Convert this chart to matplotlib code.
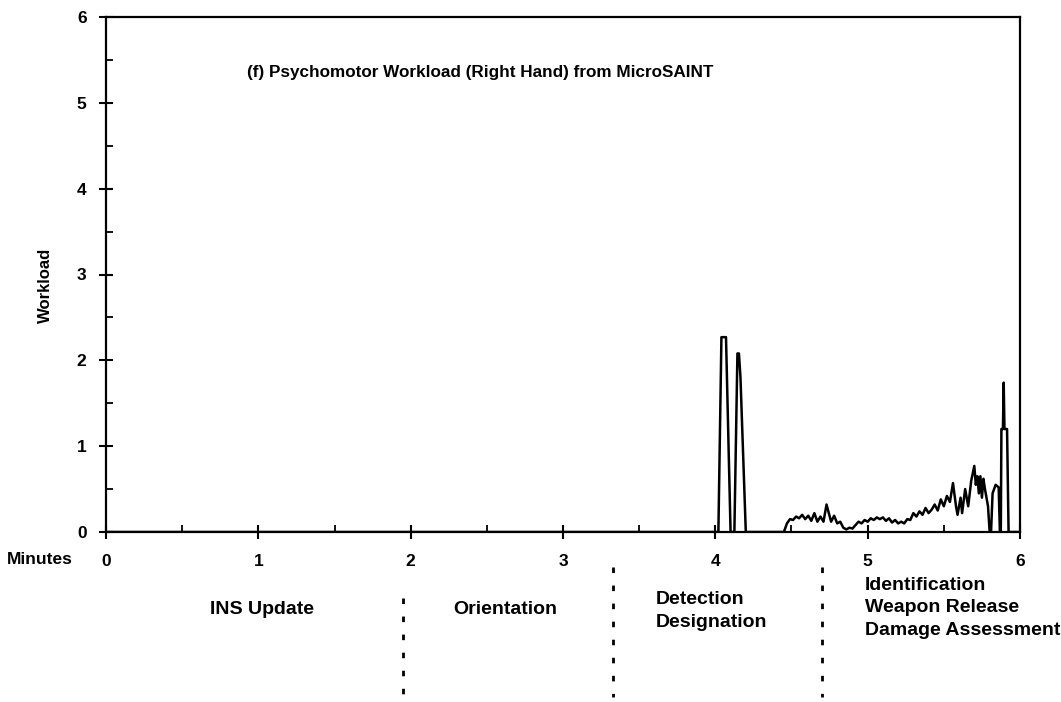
import numpy as np
import matplotlib
matplotlib.use("Agg")
import matplotlib.pyplot as plt
from matplotlib.ticker import MultipleLocator
import matplotlib.transforms as mtransforms

plt.rcParams['font.family'] = ['Liberation Sans', 'DejaVu Sans']
plt.rcParams['font.weight'] = 'bold'

# =========================================================
# DATA
# =========================================================
minutes = [0.0, 4.02, 4.04, 4.07, 4.10, 4.125, 4.145, 4.155, 4.165, 4.20,
           4.45, 4.47, 4.49, 4.51, 4.53, 4.55, 4.57, 4.59, 4.61, 4.63,
           4.65, 4.67, 4.69, 4.71, 4.73, 4.745, 4.76, 4.78, 4.80, 4.82,
           4.84, 4.86, 4.88, 4.90, 4.92, 4.94, 4.96, 4.98, 5.00, 5.02,
           5.04, 5.06, 5.08, 5.10, 5.12, 5.14, 5.16, 5.18, 5.20, 5.22,
           5.24, 5.26, 5.28, 5.30, 5.32, 5.34, 5.36, 5.38, 5.40, 5.42,
           5.44, 5.46, 5.48, 5.50, 5.52, 5.54, 5.56, 5.58, 5.59, 5.61,
           5.62, 5.64, 5.66, 5.68, 5.70, 5.71, 5.72, 5.73, 5.74, 5.75,
           5.76, 5.77, 5.79, 5.80, 5.81, 5.82, 5.84, 5.86, 5.868, 5.874,
           5.878, 5.888, 5.893, 5.898, 5.915, 5.925, 6.0]
workload = [0.0, 0.0, 2.27, 2.27, 0.0, 0.0, 2.08, 2.08, 1.80, 0.0,
            0.0, 0.10, 0.15, 0.14, 0.18, 0.16, 0.20, 0.15, 0.19, 0.13,
            0.22, 0.12, 0.18, 0.12, 0.32, 0.22, 0.12, 0.19, 0.10, 0.12,
            0.05, 0.03, 0.05, 0.04, 0.08, 0.12, 0.10, 0.14, 0.12, 0.16,
            0.14, 0.17, 0.15, 0.17, 0.13, 0.16, 0.11, 0.14, 0.10, 0.12,
            0.10, 0.15, 0.14, 0.22, 0.18, 0.24, 0.20, 0.28, 0.22, 0.26,
            0.32, 0.25, 0.38, 0.30, 0.42, 0.35, 0.57, 0.30, 0.20, 0.40,
            0.22, 0.50, 0.30, 0.60, 0.77, 0.55, 0.65, 0.45, 0.65, 0.40,
            0.62, 0.50, 0.30, 0.02, 0.0, 0.45, 0.55, 0.52, 0.0, 0.0,
            1.20, 1.20, 1.74, 1.20, 1.20, 0.0, 0.0]

phase_bounds = [1.95, 3.33, 4.70]

# =========================================================
# FIGURE
# =========================================================
W, H = 1061, 702
fig = plt.figure(figsize=(W / 100, H / 100), dpi=100, facecolor="white")
ax = fig.add_axes([106 / W, 1 - 532 / H, (1020 - 106) / W, (532 - 17) / H])

ax.plot(minutes, workload, color="black", linewidth=1.8)

ax.set_xlim(0, 6)
ax.set_ylim(0, 6)
for s in ax.spines.values():
    s.set_linewidth(1.6)

ax.xaxis.set_major_locator(MultipleLocator(1))
ax.xaxis.set_minor_locator(MultipleLocator(0.5))
ax.yaxis.set_major_locator(MultipleLocator(1))
ax.yaxis.set_minor_locator(MultipleLocator(0.5))
ax.tick_params(which="major", direction="inout", length=10, width=1.5,
               labelsize=12.5)
ax.tick_params(which="minor", direction="in", length=5, width=1.3)
ax.tick_params(axis="x", which="major", pad=11)
ax.tick_params(axis="y", which="major", pad=9)
for lbl in ax.get_xticklabels() + ax.get_yticklabels():
    lbl.set_fontweight("bold")

ax.text(0.409, 0.893, "(f) Psychomotor Workload (Right Hand) from MicroSAINT",
        transform=ax.transAxes, ha="center", va="center",
        fontsize=12.3, fontweight="bold")

fig.text(45 / W, 1 - 285 / H, "Workload", rotation=90, ha="center",
         va="center", fontsize=12, fontweight="bold")
fig.text(40 / W, 1 - 560 / H, "Minutes", ha="center", va="center",
         fontsize=12.5, fontweight="bold")

# phase dividers below the axis
trans = mtransforms.blended_transform_factory(ax.transData, fig.transFigure)
tops = [598, 567, 567]
for xb, top in zip(phase_bounds, tops):
    ax.plot([xb, xb], [1 - top / H, 1 - 697 / H], transform=trans,
            clip_on=False, color="black", linewidth=2,
            linestyle=(0, (2.0, 4.5)))

# phase labels
fs = 14
fig.text(262 / W, 1 - 610 / H, "INS Update", ha="center", va="center",
         fontsize=fs, fontweight="bold")
fig.text(505 / W, 1 - 610 / H, "Orientation", ha="center", va="center",
         fontsize=fs, fontweight="bold")
fig.text(656 / W, 1 - 611 / H, "Detection\nDesignation", ha="left",
         va="center", fontsize=fs, fontweight="bold", linespacing=1.4)
fig.text(865 / W, 1 - 608 / H, "Identification\nWeapon Release\nDamage Assessment",
         ha="left", va="center", fontsize=fs, fontweight="bold",
         linespacing=1.4)

plt.savefig("out.png", dpi=100, facecolor="white")
plt.close("all")
